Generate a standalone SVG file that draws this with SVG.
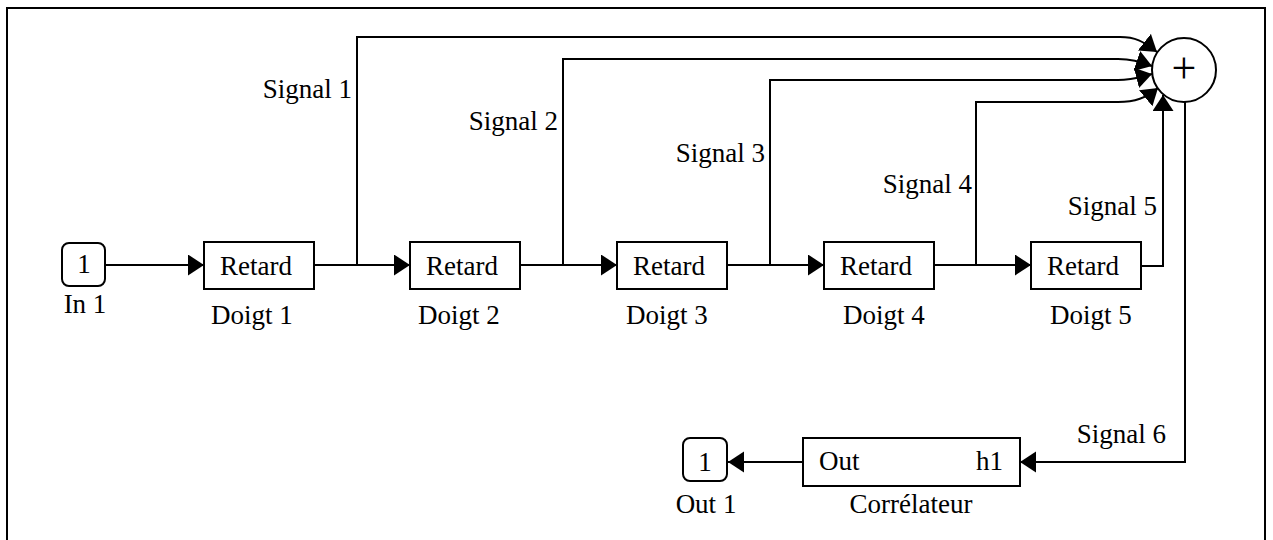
<svg xmlns="http://www.w3.org/2000/svg" width="1273" height="540" viewBox="0 0 1273 540">
<style>
text{font-family:"Liberation Serif","Times New Roman",serif;font-size:27px;fill:#000}
.box{fill:#fff;stroke:#000;stroke-width:2}
.wire{fill:none;stroke:#000;stroke-width:2}
.m{text-anchor:middle}
.e{text-anchor:end}
</style>
<defs>
<marker id="arr" markerUnits="userSpaceOnUse" markerWidth="17" markerHeight="22" refX="16" refY="10.5" orient="auto" viewBox="0 0 17 22">
<path d="M0,0 L16,10.5 L0,21 z" fill="#000"/>
</marker>
</defs>
<rect x="0" y="0" width="1273" height="540" fill="#fff"/>
<rect x="7" y="8" width="1258" height="545" fill="none" stroke="#000" stroke-width="2"/>
<g id="connectors">
<path class="wire" d="M105,265 H204" marker-end="url(#arr)"/>
<path class="wire" d="M314,265 H410" marker-end="url(#arr)"/>
<path class="wire" d="M520,265 H617" marker-end="url(#arr)"/>
<path class="wire" d="M727,265 H824" marker-end="url(#arr)"/>
<path class="wire" d="M934,265 H1031" marker-end="url(#arr)"/>
<path class="wire" d="M357,265 V37 H1120 C1135,37 1143,41 1157,52" marker-end="url(#arr)"/>
<path class="wire" d="M563,265 V59 H1118 C1132,59 1140,62 1152,66" marker-end="url(#arr)"/>
<path class="wire" d="M770,265 V80 H1118 C1132,80 1140,77 1152,74" marker-end="url(#arr)"/>
<path class="wire" d="M976,265 V102 H1118 C1135,102 1146,98 1158,88" marker-end="url(#arr)"/>
<path class="wire" d="M1141,266 H1163 V95" marker-end="url(#arr)"/>
<path class="wire" d="M1185,102 V462 H1020" marker-end="url(#arr)"/>
<path class="wire" d="M803,462 H728" marker-end="url(#arr)"/>
<text class="e" x="352" y="98">Signal 1</text>
<text class="e" x="558" y="130">Signal 2</text>
<text class="e" x="765" y="162">Signal 3</text>
<text class="e" x="972" y="193">Signal 4</text>
<text class="e" x="1157" y="215">Signal 5</text>
<text class="e" x="1166" y="443">Signal 6</text>
</g>
<g id="in1">
<rect class="box" x="62" y="243" width="43" height="43" rx="7"/>
<text class="m" x="84" y="273">1</text>
<text class="m" x="85" y="313">In 1</text>
</g>
<g id="doigt1">
<rect class="box" x="204" y="242" width="110" height="47"/>
<text class="m" x="256" y="275">Retard</text>
<text class="m" x="252" y="324">Doigt 1</text>
</g>
<g id="doigt2">
<rect class="box" x="410" y="242" width="110" height="47"/>
<text class="m" x="462" y="275">Retard</text>
<text class="m" x="459" y="324">Doigt 2</text>
</g>
<g id="doigt3">
<rect class="box" x="617" y="242" width="110" height="47"/>
<text class="m" x="669" y="275">Retard</text>
<text class="m" x="667" y="324">Doigt 3</text>
</g>
<g id="doigt4">
<rect class="box" x="824" y="242" width="110" height="47"/>
<text class="m" x="876" y="275">Retard</text>
<text class="m" x="884" y="324">Doigt 4</text>
</g>
<g id="doigt5">
<rect class="box" x="1031" y="242" width="110" height="47"/>
<text class="m" x="1083" y="275">Retard</text>
<text class="m" x="1091" y="324">Doigt 5</text>
</g>
<g id="sum">
<circle cx="1184" cy="70" r="32" fill="#fff" stroke="#000" stroke-width="2"/>
<text class="m" x="1184" y="83" style="font-size:44px">+</text>
</g>
<g id="correlateur">
<rect class="box" x="803" y="438" width="217" height="48"/>
<text x="819" y="470">Out</text>
<text class="e" x="1003" y="470">h1</text>
<text class="m" x="911" y="513">Corrélateur</text>
</g>
<g id="out1">
<rect class="box" x="683" y="438" width="44" height="43" rx="7"/>
<text class="m" x="705" y="471">1</text>
<text class="m" x="706" y="513">Out 1</text>
</g>
</svg>
